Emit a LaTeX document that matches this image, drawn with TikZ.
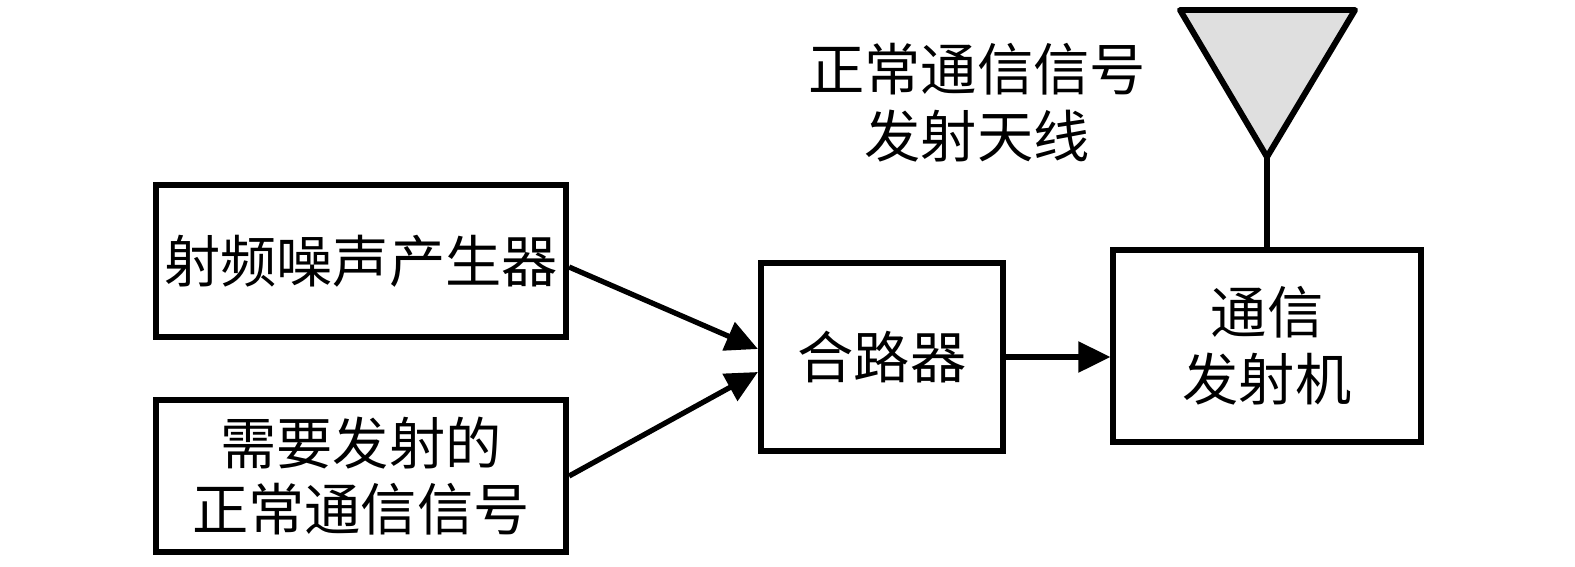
\documentclass[tikz,border=0pt]{standalone}
\usepackage{fontspec}
\newfontfamily\cjk{Noto Sans CJK SC}
\usetikzlibrary{arrows.meta}
\begin{document}
\begin{tikzpicture}[x=0.01cm,y=-0.01cm,font=\cjk\fontsize{16pt}{19pt}\selectfont,
  blk/.style={draw,line width=1.7pt,align=center,inner sep=0pt},
  sig/.style={line width=1.5pt,-{Triangle[length=0.32cm,width=0.3cm]}}]
\useasboundingbox (0,0) rectangle (1575,566);
\node[blk,minimum width=4.1cm,minimum height=1.52cm] (noise) at (361,261) {射频噪声产生器};
\node[blk,minimum width=4.1cm,minimum height=1.52cm] (normal) at (361,476) {需要发射的\\正常通信信号};
\node[blk,minimum width=2.42cm,minimum height=1.88cm] (comb) at (882,357) {合路器};
\node[blk,minimum width=3.07cm,minimum height=1.91cm] (tx) at (1267,346) {通信\\发射机};
\node[align=center] (antlabel) at (977,103) {正常通信信号\\发射天线};
\draw[line width=1.7pt,fill=gray!25,line join=round] (1180,10) -- (1355,10) -- (1267,157) coordinate (ant) -- cycle;
\draw[line width=1.7pt] (ant) -- (tx.north);
\draw[sig] ([yshift=-0.06cm]noise.east) -- ([yshift=0.08cm]comb.west);
\draw[sig] (normal.east) -- ([yshift=-0.15cm]comb.west);
\draw[sig] (comb.east) -- (comb.east -| tx.west);
\end{tikzpicture}
\end{document}
